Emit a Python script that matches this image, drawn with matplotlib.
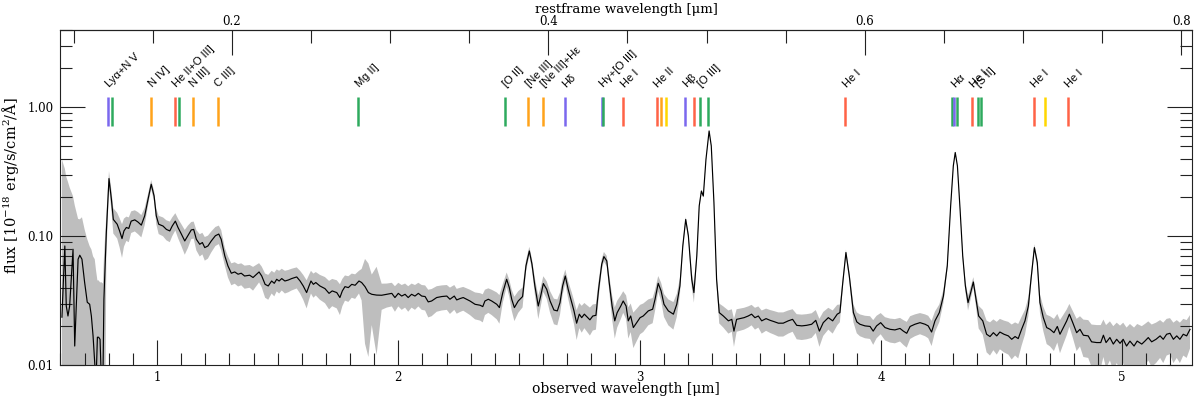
"""Spectrum of a z~5.5 source: observed flux with 1-sigma band and marked emission lines."""

import matplotlib

matplotlib.use("Agg")

import matplotlib.pyplot as plt
import numpy as np
from matplotlib.ticker import FixedLocator, FormatStrFormatter, LogLocator, MultipleLocator, NullFormatter

REDSHIFT = 5.555

# observed wavelength [micron], flux [1e-18 erg/s/cm2/A], 1-sigma error
WAVE_OBS = [
    0.606, 0.618, 0.624, 0.631, 0.638, 0.652, 0.659, 0.673, 0.680, 0.689,
    0.700, 0.711, 0.721, 0.728, 0.735, 0.742, 0.747, 0.753, 0.758, 0.764,
    0.770, 0.776, 0.780, 0.790, 0.801, 0.811, 0.819, 0.835, 0.845, 0.855,
    0.863, 0.873, 0.883, 0.893, 0.908, 0.921, 0.935, 0.949, 0.963, 0.976,
    0.988, 0.997, 1.007, 1.025, 1.039, 1.053, 1.063, 1.076, 1.087, 1.101,
    1.115, 1.128, 1.142, 1.152, 1.163, 1.177, 1.188, 1.198, 1.211, 1.225,
    1.242, 1.256, 1.266, 1.281, 1.294, 1.308, 1.322, 1.336, 1.349, 1.363,
    1.384, 1.398, 1.423, 1.434, 1.448, 1.461, 1.475, 1.486, 1.496, 1.506,
    1.517, 1.530, 1.544, 1.558, 1.579, 1.593, 1.606, 1.620, 1.630, 1.638,
    1.648, 1.658, 1.675, 1.696, 1.713, 1.726, 1.745, 1.758, 1.768, 1.779,
    1.793, 1.807, 1.821, 1.837, 1.848, 1.862, 1.876, 1.890, 1.910, 1.931,
    1.952, 1.973, 1.986, 2.000, 2.014, 2.028, 2.041, 2.055, 2.069, 2.083,
    2.097, 2.111, 2.124, 2.138, 2.159, 2.180, 2.201, 2.214, 2.232, 2.242,
    2.256, 2.269, 2.283, 2.297, 2.318, 2.339, 2.350, 2.359, 2.373, 2.387,
    2.408, 2.419, 2.433, 2.449, 2.460, 2.470, 2.481, 2.497, 2.515, 2.529,
    2.543, 2.554, 2.566, 2.580, 2.590, 2.601, 2.615, 2.629, 2.645, 2.659,
    2.670, 2.681, 2.692, 2.704, 2.719, 2.728, 2.739, 2.750, 2.760, 2.771,
    2.781, 2.794, 2.806, 2.819, 2.830, 2.843, 2.852, 2.864, 2.874, 2.886,
    2.897, 2.907, 2.922, 2.932, 2.944, 2.953, 2.963, 2.974, 2.988, 3.002,
    3.015, 3.036, 3.054, 3.064, 3.077, 3.089, 3.101, 3.119, 3.140, 3.154,
    3.167, 3.179, 3.191, 3.202, 3.216, 3.225, 3.237, 3.247, 3.256, 3.264,
    3.275, 3.288, 3.297, 3.308, 3.319, 3.330, 3.347, 3.368, 3.382, 3.391,
    3.402, 3.416, 3.433, 3.450, 3.464, 3.478, 3.492, 3.506, 3.524, 3.541,
    3.557, 3.575, 3.595, 3.616, 3.634, 3.651, 3.672, 3.692, 3.713, 3.730,
    3.745, 3.761, 3.782, 3.800, 3.819, 3.830, 3.842, 3.855, 3.869, 3.886,
    3.900, 3.913, 3.934, 3.955, 3.968, 3.982, 3.999, 4.017, 4.038, 4.058,
    4.079, 4.093, 4.107, 4.121, 4.141, 4.162, 4.183, 4.196, 4.210, 4.224,
    4.242, 4.259, 4.275, 4.289, 4.300, 4.308, 4.317, 4.328, 4.339, 4.350,
    4.361, 4.372, 4.383, 4.394, 4.405, 4.422, 4.438, 4.452, 4.466, 4.480,
    4.493, 4.510, 4.528, 4.542, 4.556, 4.569, 4.583, 4.597, 4.611, 4.622,
    4.636, 4.648, 4.659, 4.673, 4.687, 4.701, 4.717, 4.731, 4.742, 4.756,
    4.770, 4.781, 4.795, 4.811, 4.825, 4.839, 4.859, 4.873, 4.894, 4.911,
    4.922, 4.933, 4.949, 4.963, 4.977, 4.991, 5.004, 5.018, 5.032, 5.049,
    5.062, 5.081, 5.094, 5.108, 5.122, 5.140, 5.157, 5.170, 5.184, 5.198,
    5.212, 5.226, 5.239, 5.253, 5.267, 5.281,
]

FLUX = [
    0.0236, 0.0841, 0.0288, 0.0241, 0.0288, 0.0793, 0.0141, 0.0664, 0.0713, 0.0664,
    0.0440, 0.0308, 0.0297, 0.0241, 0.0169, 0.0104, 0.0070, 0.0165, 0.0165, 0.0159,
    0.0070, 0.0080, 0.0325, 0.107, 0.280, 0.194, 0.135, 0.124, 0.110, 0.0960,
    0.110, 0.117, 0.115, 0.131, 0.134, 0.129, 0.122, 0.144, 0.194, 0.253,
    0.205, 0.144, 0.124, 0.120, 0.113, 0.110, 0.120, 0.131, 0.117, 0.104,
    0.0920, 0.101, 0.112, 0.113, 0.0948, 0.0867, 0.0894, 0.0817, 0.0841, 0.0920,
    0.101, 0.104, 0.0948, 0.0704, 0.0589, 0.0517, 0.0529, 0.0508, 0.0517, 0.0492,
    0.0499, 0.0479, 0.0529, 0.0492, 0.0424, 0.0412, 0.0450, 0.0432, 0.0464, 0.0450,
    0.0470, 0.0450, 0.0458, 0.0470, 0.0484, 0.0450, 0.0412, 0.0366, 0.0412, 0.0450,
    0.0424, 0.0438, 0.0412, 0.0393, 0.0361, 0.0377, 0.0366, 0.0335, 0.0377, 0.0407,
    0.0400, 0.0424, 0.0417, 0.0450, 0.0438, 0.0407, 0.0366, 0.0355, 0.0350, 0.0349,
    0.0355, 0.0361, 0.0335, 0.0361, 0.0344, 0.0355, 0.0335, 0.0355, 0.0344, 0.0361,
    0.0344, 0.0341, 0.0310, 0.0315, 0.0335, 0.0341, 0.0344, 0.0325, 0.0344, 0.0321,
    0.0329, 0.0335, 0.0325, 0.0315, 0.0297, 0.0292, 0.0285, 0.0315, 0.0325, 0.0315,
    0.0297, 0.0280, 0.0366, 0.0464, 0.0400, 0.0325, 0.0280, 0.0315, 0.0341, 0.0589,
    0.0769, 0.0607, 0.0412, 0.0288, 0.0344, 0.0430, 0.0388, 0.0315, 0.0268, 0.0264,
    0.0306, 0.0412, 0.0492, 0.0388, 0.0306, 0.0264, 0.0212, 0.0249, 0.0234, 0.0249,
    0.0238, 0.0225, 0.0241, 0.0244, 0.0388, 0.0607, 0.0696, 0.0644, 0.0438, 0.0288,
    0.0221, 0.0256, 0.0288, 0.0315, 0.0288, 0.0221, 0.0241, 0.0196, 0.0214, 0.0234,
    0.0241, 0.0264, 0.0272, 0.0325, 0.0432, 0.0377, 0.0297, 0.0264, 0.0249, 0.0297,
    0.0412, 0.0841, 0.135, 0.101, 0.0464, 0.0366, 0.0704, 0.172, 0.224, 0.205,
    0.395, 0.655, 0.501, 0.183, 0.0464, 0.0256, 0.0241, 0.0221, 0.0227, 0.0184,
    0.0227, 0.0230, 0.0234, 0.0241, 0.0249, 0.0234, 0.0241, 0.0221, 0.0230, 0.0223,
    0.0218, 0.0212, 0.0212, 0.0221, 0.0227, 0.0204, 0.0202, 0.0204, 0.0208, 0.0223,
    0.0184, 0.0214, 0.0234, 0.0221, 0.0249, 0.0256, 0.0438, 0.0748, 0.0492, 0.0256,
    0.0217, 0.0208, 0.0202, 0.0200, 0.0184, 0.0202, 0.0214, 0.0196, 0.0190, 0.0188,
    0.0193, 0.0184, 0.0177, 0.0200, 0.0208, 0.0214, 0.0208, 0.0202, 0.0181, 0.0221,
    0.0256, 0.0344, 0.0589, 0.172, 0.351, 0.446, 0.351, 0.162, 0.0704, 0.0412,
    0.0306, 0.0366, 0.0442, 0.0325, 0.0241, 0.0221, 0.0174, 0.0167, 0.0179, 0.0169,
    0.0181, 0.0174, 0.0169, 0.0159, 0.0167, 0.0161, 0.0190, 0.0221, 0.0288, 0.0464,
    0.0817, 0.0625, 0.0306, 0.0234, 0.0196, 0.0190, 0.0179, 0.0200, 0.0174, 0.0196,
    0.0221, 0.0249, 0.0214, 0.0179, 0.0190, 0.0171, 0.0169, 0.0152, 0.0150, 0.0150,
    0.0171, 0.0150, 0.0164, 0.0146, 0.0159, 0.0148, 0.0159, 0.0141, 0.0154, 0.0141,
    0.0154, 0.0146, 0.0154, 0.0164, 0.0152, 0.0159, 0.0169, 0.0159, 0.0174, 0.0177,
    0.0159, 0.0169, 0.0159, 0.0174, 0.0169, 0.0190,
]

FLUX_ERR = [
    0.37, 0.25, 0.26, 0.24, 0.21, 0.125, 0.16, 0.07, 0.064, 0.074,
    0.069, 0.064, 0.054, 0.055, 0.053, 0.056, 0.048, 0.029, 0.029, 0.028,
    0.037, 0.035, 0.035, 0.04, 0.04, 0.035, 0.03, 0.028, 0.028, 0.028,
    0.027, 0.025, 0.025, 0.025, 0.025, 0.025, 0.024, 0.022, 0.02, 0.02,
    0.02, 0.02, 0.02, 0.02, 0.02, 0.02, 0.02, 0.02, 0.02, 0.02,
    0.02, 0.02, 0.017, 0.017, 0.017, 0.017, 0.017, 0.017, 0.017, 0.017,
    0.017, 0.017, 0.017, 0.011, 0.011, 0.010, 0.010, 0.010, 0.010, 0.010,
    0.010, 0.010, 0.009, 0.009, 0.009, 0.009, 0.009, 0.009, 0.009, 0.009,
    0.009, 0.009, 0.009, 0.009, 0.009, 0.009, 0.009, 0.009, 0.009, 0.009,
    0.009, 0.009, 0.009, 0.009, 0.009, 0.009, 0.009, 0.009, 0.009, 0.009,
    0.009, 0.009, 0.009, 0.009, 0.012, 0.026, 0.025, 0.015, 0.023, 0.008,
    0.0075, 0.0075, 0.0075, 0.0075, 0.0075, 0.0075, 0.0075, 0.0075, 0.0075, 0.0075,
    0.0075, 0.0075, 0.0075, 0.0075, 0.0075, 0.0075, 0.0075, 0.0075, 0.0075, 0.007,
    0.007, 0.007, 0.007, 0.007, 0.007, 0.007, 0.007, 0.007, 0.007, 0.007,
    0.007, 0.007, 0.006, 0.006, 0.006, 0.006, 0.006, 0.006, 0.006, 0.006,
    0.006, 0.006, 0.006, 0.006, 0.006, 0.006, 0.006, 0.006, 0.006, 0.006,
    0.006, 0.006, 0.006, 0.006, 0.006, 0.0055, 0.0055, 0.0055, 0.0055, 0.0055,
    0.0055, 0.0055, 0.0055, 0.0055, 0.006, 0.006, 0.006, 0.006, 0.006, 0.006,
    0.006, 0.006, 0.006, 0.006, 0.006, 0.006, 0.006, 0.006, 0.006, 0.006,
    0.006, 0.006, 0.006, 0.006, 0.006, 0.006, 0.006, 0.006, 0.006, 0.006,
    0.006, 0.006, 0.006, 0.006, 0.006, 0.006, 0.006, 0.006, 0.006, 0.006,
    0.006, 0.006, 0.006, 0.006, 0.0045, 0.0045, 0.0045, 0.0045, 0.0045, 0.0045,
    0.0045, 0.0045, 0.0045, 0.0045, 0.0045, 0.0045, 0.0045, 0.0045, 0.0045, 0.0045,
    0.0045, 0.0045, 0.0045, 0.0045, 0.0045, 0.0045, 0.0045, 0.0045, 0.0045, 0.0045,
    0.0045, 0.0045, 0.0045, 0.0045, 0.0045, 0.004, 0.004, 0.004, 0.004, 0.004,
    0.004, 0.004, 0.004, 0.004, 0.004, 0.004, 0.004, 0.004, 0.004, 0.004,
    0.004, 0.004, 0.004, 0.004, 0.004, 0.004, 0.004, 0.004, 0.004, 0.004,
    0.004, 0.004, 0.004, 0.004, 0.004, 0.004, 0.004, 0.004, 0.004, 0.004,
    0.004, 0.004, 0.004, 0.004, 0.0048, 0.0048, 0.0048, 0.0048, 0.0048, 0.0048,
    0.0048, 0.0048, 0.0048, 0.0048, 0.0048, 0.0048, 0.0048, 0.0048, 0.0048, 0.005,
    0.005, 0.005, 0.005, 0.005, 0.005, 0.005, 0.005, 0.005, 0.005, 0.005,
    0.005, 0.005, 0.005, 0.005, 0.005, 0.0055, 0.0055, 0.0055, 0.0055, 0.0055,
    0.0055, 0.0055, 0.0055, 0.0055, 0.0055, 0.0055, 0.0055, 0.0055, 0.0055, 0.0055,
    0.0055, 0.0055, 0.0055, 0.0055, 0.0055, 0.0055, 0.0055, 0.0055, 0.0055, 0.0055,
    0.0055, 0.0055, 0.0055, 0.0055, 0.0055, 0.0055,
]

# emission line markers: rest wavelength [micron] and colour class
LINE_REST = [
    0.1216, 0.1240, 0.1486, 0.1640, 0.1663, 0.1750, 0.1909, 0.2799,
    0.3728, 0.3870, 0.3969, 0.4103, 0.4342, 0.4348, 0.4473,
    0.4687, 0.4713, 0.4742, 0.4863, 0.4923, 0.4960, 0.5008,
    0.5877, 0.6550, 0.6565, 0.6585, 0.6680, 0.6718, 0.6733,
    0.7067, 0.7138, 0.7283,
]
LINE_KIND = [
    "H", "metal", "nitrogen", "helium", "metal", "nitrogen", "nitrogen", "metal",
    "metal", "nitrogen", "nitrogen", "H", "H", "metal", "helium",
    "helium", "nitrogen", "argon", "H", "helium", "metal", "metal",
    "helium", "metal", "H", "metal", "helium", "metal", "metal",
    "helium", "argon", "helium",
]
KIND_COLORS = {
    "H": "#7b68ee",
    "metal": "#2eaa5e",
    "nitrogen": "#ffa31a",
    "helium": "#ff6347",
    "argon": "#ffd700",
}

LABEL_REST = [
    0.1216, 0.1486, 0.1640, 0.1750, 0.1909, 0.2799, 0.3728, 0.3870, 0.3969,
    0.4103, 0.4342, 0.4473, 0.4687, 0.4863, 0.4960, 0.5877, 0.6565, 0.6680,
    0.6718, 0.7067, 0.7283,
]
LABEL_TEXT = [
    "Lyα+N V", "N IV]", "He II+O III]", "N III]", "C III]", "Mg II]", "[O II]",
    "[Ne III]", "[Ne III]+Hε", "Hδ", "Hγ+[O III]", "He I", "He II", "Hβ",
    "[O III]", "He I", "Hα", "He I", "[S II]", "He I", "He I",
]

REST_TICKS = [0.2, 0.4, 0.6, 0.8]

plt.rcParams["font.family"] = ["DejaVu Serif"]
plt.rcParams["mathtext.fontset"] = "custom"
plt.rcParams["mathtext.rm"] = "DejaVu Serif"
plt.rcParams["mathtext.it"] = "DejaVu Serif:italic"


def main() -> None:
    wave = np.array(WAVE_OBS)
    flux = np.array(FLUX)
    err = np.array(FLUX_ERR)
    one_plus_z = 1.0 + REDSHIFT

    fig = plt.figure(figsize=(12, 3.98), dpi=100)
    ax = fig.add_axes([0.0504, 0.0822, 0.9431, 0.8435])

    ax.fill_between(wave, np.clip(flux - err, 1e-4, None), flux + err, color="#bebebe", lw=0)
    ax.plot(wave, flux, color="black", lw=0.85)

    line_obs = np.array(LINE_REST) * one_plus_z
    ax.vlines(line_obs, 0.71, 1.2, colors=[KIND_COLORS[k] for k in LINE_KIND], lw=1.8)
    for rest, text in zip(LABEL_REST, LABEL_TEXT):
        ax.annotate(
            text, xy=(rest * one_plus_z, 1.42), xytext=(1, 0), textcoords="offset points",
            rotation=45, rotation_mode="anchor", ha="left", va="baseline",
            fontsize=8, family=["Liberation Sans", "DejaVu Sans"],
        )

    ax.set_yscale("log")
    ax.set_xlim(0.60, 5.29)
    ax.set_ylim(0.01, 4.0)
    ax.xaxis.set_major_locator(MultipleLocator(1))
    ax.xaxis.set_minor_locator(MultipleLocator(0.1))
    ax.xaxis.set_major_formatter(FormatStrFormatter("%d"))
    ax.yaxis.set_major_locator(LogLocator(base=10))
    ax.yaxis.set_minor_locator(LogLocator(base=10, subs=np.arange(2, 10)))
    ax.yaxis.set_major_formatter(FormatStrFormatter("%.2f"))
    ax.yaxis.set_minor_formatter(NullFormatter())
    ax.tick_params(which="both", direction="in", top=False, right=True, width=0.8,
                   labelsize=8.5, color="#222222")
    ax.tick_params(which="major", length=18)
    ax.tick_params(axis="x", which="major", pad=4)
    ax.tick_params(axis="y", which="major", pad=5)
    ax.tick_params(which="minor", length=8.6)
    for spine in ax.spines.values():
        spine.set_linewidth(0.8)
        spine.set_color("#222222")

    top = ax.secondary_xaxis("top", functions=(lambda x: x / one_plus_z, lambda x: x * one_plus_z))
    top.xaxis.set_major_locator(FixedLocator(REST_TICKS))
    top.xaxis.set_minor_locator(MultipleLocator(0.05))
    top.xaxis.set_major_formatter(FormatStrFormatter("%.1f"))
    top.tick_params(which="both", direction="in", width=0.8, labelsize=8.5, color="#222222")
    top.tick_params(which="major", length=18, pad=0.8)
    top.tick_params(which="minor", length=9)
    top.spines["top"].set_linewidth(0.8)

    ax.set_xlabel("observed wavelength [μm]", fontsize=10, labelpad=-1.5)
    top.set_xlabel("restframe wavelength [μm]", fontsize=9.5, labelpad=1.5)
    ax.set_ylabel("flux [10$^{-18}$ erg/s/cm$^2$/Å]", fontsize=10.5)
    ax.yaxis.set_label_coords(-0.035, 0.535)

    fig.savefig("out.png", dpi=100)
    plt.close(fig)


if __name__ == "__main__":
    main()
